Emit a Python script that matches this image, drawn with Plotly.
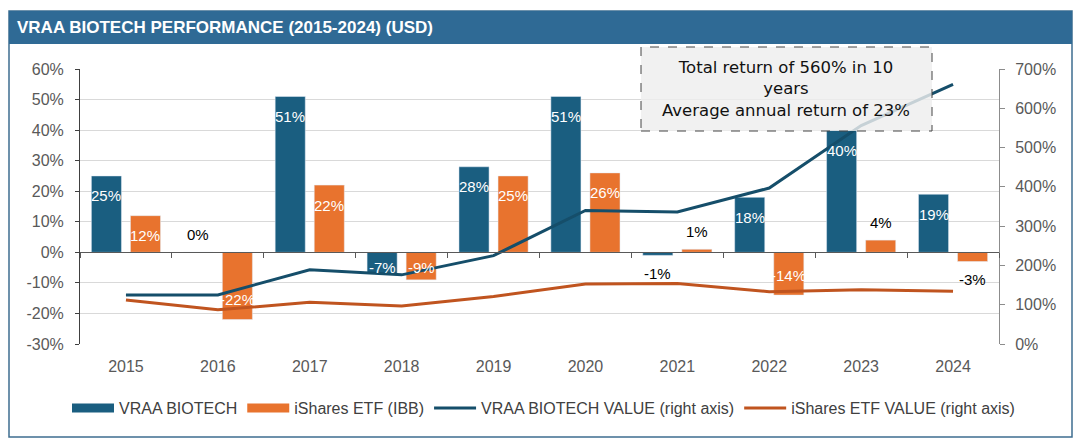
import plotly.graph_objects as go

# ---------------- data ----------------
years = ["2015", "2016", "2017", "2018", "2019", "2020", "2021", "2022", "2023", "2024"]
vraa_return = [25, 0, 51, -7, 28, 51, -1, 18, 40, 19]          # % (left axis)
ibb_return = [12, -22, 22, -9, 25, 26, 1, -14, 4, -3]           # % (left axis)
vraa_value = [125, 125, 189, 176, 225, 340, 336, 397, 556, 661]  # % (right axis)
ibb_value = [112, 87, 106, 97, 121, 153, 154, 133, 138, 134]     # % (right axis)
left_ticks = [-30, -20, -10, 0, 10, 20, 30, 40, 50, 60]
left_labels = ["-30%", "-20%", "-10%", "0%", "10%", "20%", "30%", "40%", "50%", "60%"]
right_ticks = [0, 100, 200, 300, 400, 500, 600, 700]
right_labels = ["0%", "100%", "200%", "300%", "400%", "500%", "600%", "700%"]
title_text = "VRAA BIOTECH PERFORMANCE (2015-2024) (USD)"
note_text = "Total return of 560% in 10<br>years<br>Average annual return of 23%"

# ---------------- styling ----------------
OFF = 8                      # default page margin around the figure
W, H = 1089 - 2 * OFF, 446 - 2 * OFF
PLOT_X0, PLOT_X1, PLOT_Y0, PLOT_Y1 = 80, 999, 69, 344   # target page pixels of plot area
L, T = PLOT_X0 - OFF, PLOT_Y0 - OFF
PW, PH = PLOT_X1 - PLOT_X0, PLOT_Y1 - PLOT_Y0
R, B = W - L - PW, H - T - PH
C_BLUE = "#1A5E80"
C_ORANGE = "#E8732E"
C_BLUE_LINE = "#154E6A"
C_ORANGE_LINE = "#C0541F"
C_HEAD = "#2F6A95"
TICK_COLOR = "#595959"
FONT = "Liberation Sans, Arial, sans-serif"


def px(x):
    return (x - PLOT_X0) / PW


def py(y):
    return (PLOT_Y1 - y) / PH


ymin, ymax = left_ticks[0], left_ticks[-1]
ppu = PH / (ymax - ymin)

fig = go.Figure()

# legend stand-ins for the bar series (wide flat swatches)
fig.add_trace(go.Scatter(x=[None], y=[None], mode="lines", name="VRAA BIOTECH",
                         line=dict(color=C_BLUE, width=9), hoverinfo="skip"))
fig.add_trace(go.Scatter(x=[None], y=[None], mode="lines", name="iShares ETF (IBB)",
                         line=dict(color=C_ORANGE, width=9), hoverinfo="skip"))

fig.add_trace(go.Bar(x=years, y=vraa_return, name="VRAA BIOTECH", marker_color=C_BLUE,
                     showlegend=False))
fig.add_trace(go.Bar(x=years, y=ibb_return, name="iShares ETF (IBB)", marker_color=C_ORANGE,
                     showlegend=False))

fig.add_trace(go.Scatter(x=years, y=vraa_value, mode="lines", name="VRAA BIOTECH VALUE (right axis)",
                         line=dict(color=C_BLUE_LINE, width=3), xaxis="x2", yaxis="y2"))
fig.add_trace(go.Scatter(x=years, y=ibb_value, mode="lines", name="iShares ETF VALUE (right axis)",
                         line=dict(color=C_ORANGE_LINE, width=3), xaxis="x2", yaxis="y2"))

# data labels (category index positions, offset to each bar of the group)
annotations = []
for series, shift in ((vraa_return, -19.5), (ibb_return, 19.5)):
    for i, v in enumerate(series):
        sign = 1 if v >= 0 else -1
        inside = abs(v) >= 7
        if inside:
            off = min(20, abs(v) * ppu - 15)
            ys = -sign * off
            col = "white"
        else:
            ys = sign * 18
            col = "black"
        annotations.append(dict(x=i, y=v, xref="x", yref="y", text=f"{v}%", showarrow=False,
                                xshift=shift, yshift=ys, xanchor="center", yanchor="middle",
                                font=dict(family=FONT, size=15, color=col)))

# title
annotations.append(dict(x=px(15), y=py(28), xref="paper", yref="paper", text=title_text,
                        showarrow=False, xanchor="left", yanchor="middle",
                        font=dict(family="Liberation Sans, Arial, sans-serif",
                                  size=17, color="white", weight="bold")))
# note box text
annotations.append(dict(x=px(786), y=py(89), xref="paper", yref="paper", text=note_text,
                        showarrow=False, xanchor="center", yanchor="middle", align="center",
                        font=dict(family="DejaVu Sans, sans-serif", size=16.5, color="#111111")))

shapes = [
    dict(type="rect", xref="paper", yref="paper", x0=px(9), x1=px(1072), y0=py(437), y1=py(11),
         line=dict(color="#3E6E90", width=1.5), fillcolor="rgba(0,0,0,0)", layer="below"),
    dict(type="rect", xref="paper", yref="paper", x0=px(9), x1=px(1072), y0=py(44), y1=py(11),
         line=dict(width=0), fillcolor=C_HEAD, layer="below"),
    dict(type="rect", xref="paper", yref="paper", x0=px(641), x1=px(932), y0=py(131), y1=py(47),
         line=dict(color="#444444", width=1, dash="dash"), fillcolor="rgba(238,238,238,0.82)",
         layer="above"),
]

fig.update_layout(
    width=W, height=H, autosize=False,
    margin=dict(l=L, r=R, t=T, b=B, pad=0),
    paper_bgcolor="white", plot_bgcolor="white",
    barmode="group", bargap=0.15, bargroupgap=0.23,
    showlegend=True,
    legend=dict(orientation="h", x=px(67), y=py(391), xanchor="left", yanchor="top",
                font=dict(family=FONT, size=16, color="#404040"), itemwidth=42,
                bgcolor="rgba(0,0,0,0)", traceorder="normal"),
    xaxis=dict(type="category", categoryorder="array", categoryarray=years, range=[-0.5, 9.5],
               showgrid=False, showline=False, ticks="", zeroline=False,
               tickfont=dict(family=FONT, size=16, color=TICK_COLOR), ticklabelstandoff=11),
    xaxis2=dict(type="category", categoryorder="array", categoryarray=years, range=[-0.5, 9.5],
                overlaying="x", anchor="free", position=py(PLOT_Y0 + (ymax - 0) * ppu), side="bottom",
                showgrid=False, showline=True, linecolor="#595959", linewidth=1,
                ticks="outside", tickson="boundaries", ticklen=5, tickcolor="#595959",
                showticklabels=False, zeroline=False),
    yaxis=dict(range=[ymin, ymax], tickmode="array", tickvals=left_ticks, ticktext=left_labels,
               showgrid=True, gridcolor="#D9D9D9", gridwidth=1, zeroline=False, showline=True,
               linecolor="#404040", linewidth=1, ticks="outside", ticklen=4, tickcolor="#404040",
               tickfont=dict(family=FONT, size=16, color=TICK_COLOR), ticklabelstandoff=8),
    yaxis2=dict(range=[right_ticks[0], right_ticks[-1]], tickmode="array", tickvals=right_ticks,
                ticktext=right_labels, overlaying="y", side="right", anchor="x2", showgrid=False,
                zeroline=False, showline=True, linecolor="#8C8C8C", linewidth=1, ticks="outside",
                ticklen=5, tickcolor="#8C8C8C", tickfont=dict(family=FONT, size=16, color=TICK_COLOR),
                ticklabelstandoff=7),
    annotations=annotations,
    shapes=shapes,
)

fig.write_html("out.html")
